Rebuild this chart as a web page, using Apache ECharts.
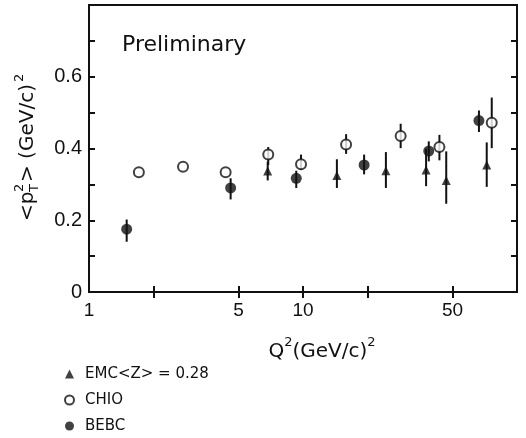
<!DOCTYPE html>
<html>
<head>
<meta charset="utf-8">
<script src="https://cdn.jsdelivr.net/npm/echarts@6/dist/echarts.min.js"></script>
<style>
  html, body { margin: 0; padding: 0; background: #fff; }
  #chart { width: 526px; height: 438px; }
</style>
</head>
<body>
<div id="chart"></div>
<script>
// EMC, <z> = 0.28
const emcQ2   = [6.84, 14.4, 24.4, 37.6, 46.7, 72.2];
const emcPt2  = [0.337, 0.325, 0.338, 0.340, 0.311, 0.354];
const emcLow  = [0.311, 0.290, 0.290, 0.295, 0.246, 0.293];
const emcHigh = [0.363, 0.370, 0.390, 0.399, 0.392, 0.417];

// CHIO
const chioQ2   = [1.71, 2.75, 4.35, 6.88, 9.79, 15.9, 28.6, 43.4, 76.2];
const chioPt2  = [0.334, 0.349, 0.334, 0.383, 0.356, 0.411, 0.435, 0.404, 0.472];
const chioLow  = [null, null, null, 0.354, 0.340, 0.385, 0.401, 0.367, 0.401];
const chioHigh = [null, null, null, 0.404, 0.383, 0.440, 0.469, 0.438, 0.542];

// BEBC
const bebcQ2   = [1.50, 4.59, 9.30, 19.3, 38.7, 66.4];
const bebcPt2  = [0.175, 0.290, 0.317, 0.354, 0.393, 0.478];
const bebcLow  = [0.140, 0.258, 0.290, 0.328, 0.364, 0.446];
const bebcHigh = [0.202, 0.317, 0.338, 0.383, 0.420, 0.506];

// axis ticks and labels
const xTickValues  = [2, 5, 10, 20, 50];
const xLabelValues = [1, 5, 10, 50];
const yLabelValues = [0, 0.2, 0.4, 0.6];

const ink = '#111';
const textFont = 'DejaVu Sans';
const numFont = 'Liberation Sans';

function points(xs, ys) {
  return xs.map((x, i) => [x, ys[i]]);
}

// vertical error bars, drawn on the top x axis (same log range as the bottom one)
function errorBars(xs, lo, hi) {
  const data = [];
  xs.forEach((x, i) => { if (lo[i] != null) data.push([x, lo[i], hi[i]]); });
  return {
    type: 'custom',
    xAxisIndex: 1,
    yAxisIndex: 0,
    silent: true,
    z: 1,
    data: data,
    encode: { x: 0, y: [1, 2] },
    renderItem(params, api) {
      const a = api.coord([api.value(0), api.value(1)]);
      const b = api.coord([api.value(0), api.value(2)]);
      return {
        type: 'line',
        shape: { x1: a[0], y1: a[1], x2: b[0], y2: b[1] },
        style: { stroke: ink, lineWidth: 2 }
      };
    }
  };
}

const frameLine = { show: true, lineStyle: { color: ink, width: 2 } };

const xBase = {
  type: 'log',
  logBase: 10,
  min: 1,
  max: 100,
  axisLine: frameLine,
  splitLine: { show: false },
  minorTick: { show: false }
};

const yBase = {
  type: 'value',
  min: 0,
  max: 0.8,
  interval: 0.1,
  axisLine: frameLine,
  splitLine: { show: false },
  axisTick: { show: true, inside: true, length: 6, lineStyle: { color: ink, width: 2 } }
};

const chart = echarts.init(document.getElementById('chart'), null, { renderer: 'canvas' });

chart.setOption({
  animation: false,
  backgroundColor: '#fff',
  title: {
    text: 'Preliminary',
    left: 122,
    top: 34,
    padding: 0,
    textStyle: { fontFamily: textFont, fontSize: 22, fontWeight: 'normal', color: ink }
  },
  grid: { left: 89, right: 9, top: 5, bottom: 146, show: true, borderColor: ink, borderWidth: 2 },
  xAxis: [
    Object.assign({}, xBase, {
      position: 'bottom',
      axisTick: { show: true, inside: true, length: 6, customValues: xTickValues,
                  lineStyle: { color: ink, width: 2 } },
      axisLabel: { show: true, customValues: xLabelValues, margin: 9,
                   fontFamily: numFont, fontSize: 19, color: ink },
      name: '{n|Q}{s|2}{n|(GeV/c)}{s|2}',
      nameLocation: 'middle',
      nameGap: 44,
      nameTextStyle: {
        padding: [0, 0, 0, 38],
        rich: {
          n: { fontFamily: textFont, fontSize: 20, color: ink, lineHeight: 26, verticalAlign: 'bottom' },
          s: { fontFamily: textFont, fontSize: 13, color: ink, lineHeight: 26, verticalAlign: 'top' }
        }
      }
    }),
    Object.assign({}, xBase, {
      position: 'top',
      axisTick: { show: true, inside: true, length: 6, customValues: xTickValues,
                  lineStyle: { color: ink, width: 2 } },
      axisLabel: { show: false }
    })
  ],
  yAxis: [
    Object.assign({}, yBase, {
      position: 'left',
      axisLabel: {
        show: true,
        customValues: yLabelValues,
        margin: 7,
        fontFamily: numFont,
        fontSize: 20,
        color: ink,
        formatter: v => (v === 0 ? '0' : v.toFixed(1))
      }
    }),
    Object.assign({}, yBase, {
      position: 'right',
      axisLabel: { show: false }
    })
  ],
  legend: {
    orient: 'vertical',
    left: 64,
    top: 366,
    padding: 0,
    itemWidth: 9,
    itemHeight: 9,
    itemGap: 10,
    selectedMode: false,
    textStyle: { fontFamily: textFont, fontSize: 15, color: ink, lineHeight: 16, padding: [0, 0, 0, 6] },
    data: ['EMC<Z> = 0.28', 'CHIO', 'BEBC']
  },
  graphic: [{
    type: 'group',
    x: 28,
    y: 146,
    rotation: Math.PI / 2,
    children: [
      { type: 'text', x: -75, y: 0,
        style: { text: '<p', font: '20px "DejaVu Sans"', fill: ink, textAlign: 'left', textVerticalAlign: 'middle' } },
      { type: 'text', x: -46, y: -8,
        style: { text: '2', font: '13px "DejaVu Sans"', fill: ink, textAlign: 'left', textVerticalAlign: 'middle' } },
      { type: 'text', x: -46, y: 7,
        style: { text: 'T', font: '13px "DejaVu Sans"', fill: ink, textAlign: 'left', textVerticalAlign: 'middle' } },
      { type: 'text', x: -36, y: 0,
        style: { text: '> (GeV/c)', font: '20px "DejaVu Sans"', fill: ink, textAlign: 'left', textVerticalAlign: 'middle' } },
      { type: 'text', x: 64, y: -8,
        style: { text: '2', font: '13px "DejaVu Sans"', fill: ink, textAlign: 'left', textVerticalAlign: 'middle' } }
    ]
  }],
  series: [
    errorBars(emcQ2, emcLow, emcHigh),
    errorBars(chioQ2, chioLow, chioHigh),
    errorBars(bebcQ2, bebcLow, bebcHigh),
    {
      name: 'EMC<Z> = 0.28',
      type: 'scatter',
      z: 3,
      symbol: 'triangle',
      symbolSize: 9,
      itemStyle: { color: ink },
      data: points(emcQ2, emcPt2)
    },
    {
      name: 'CHIO',
      type: 'scatter',
      z: 3,
      symbol: 'emptyCircle',
      symbolSize: 10,
      itemStyle: { color: ink, borderColor: ink, borderWidth: 2 },
      data: points(chioQ2, chioPt2)
    },
    {
      name: 'BEBC',
      type: 'scatter',
      z: 3,
      symbol: 'circle',
      symbolSize: 11,
      itemStyle: { color: ink },
      data: points(bebcQ2, bebcPt2)
    }
  ]
});
</script>
</body>
</html>
